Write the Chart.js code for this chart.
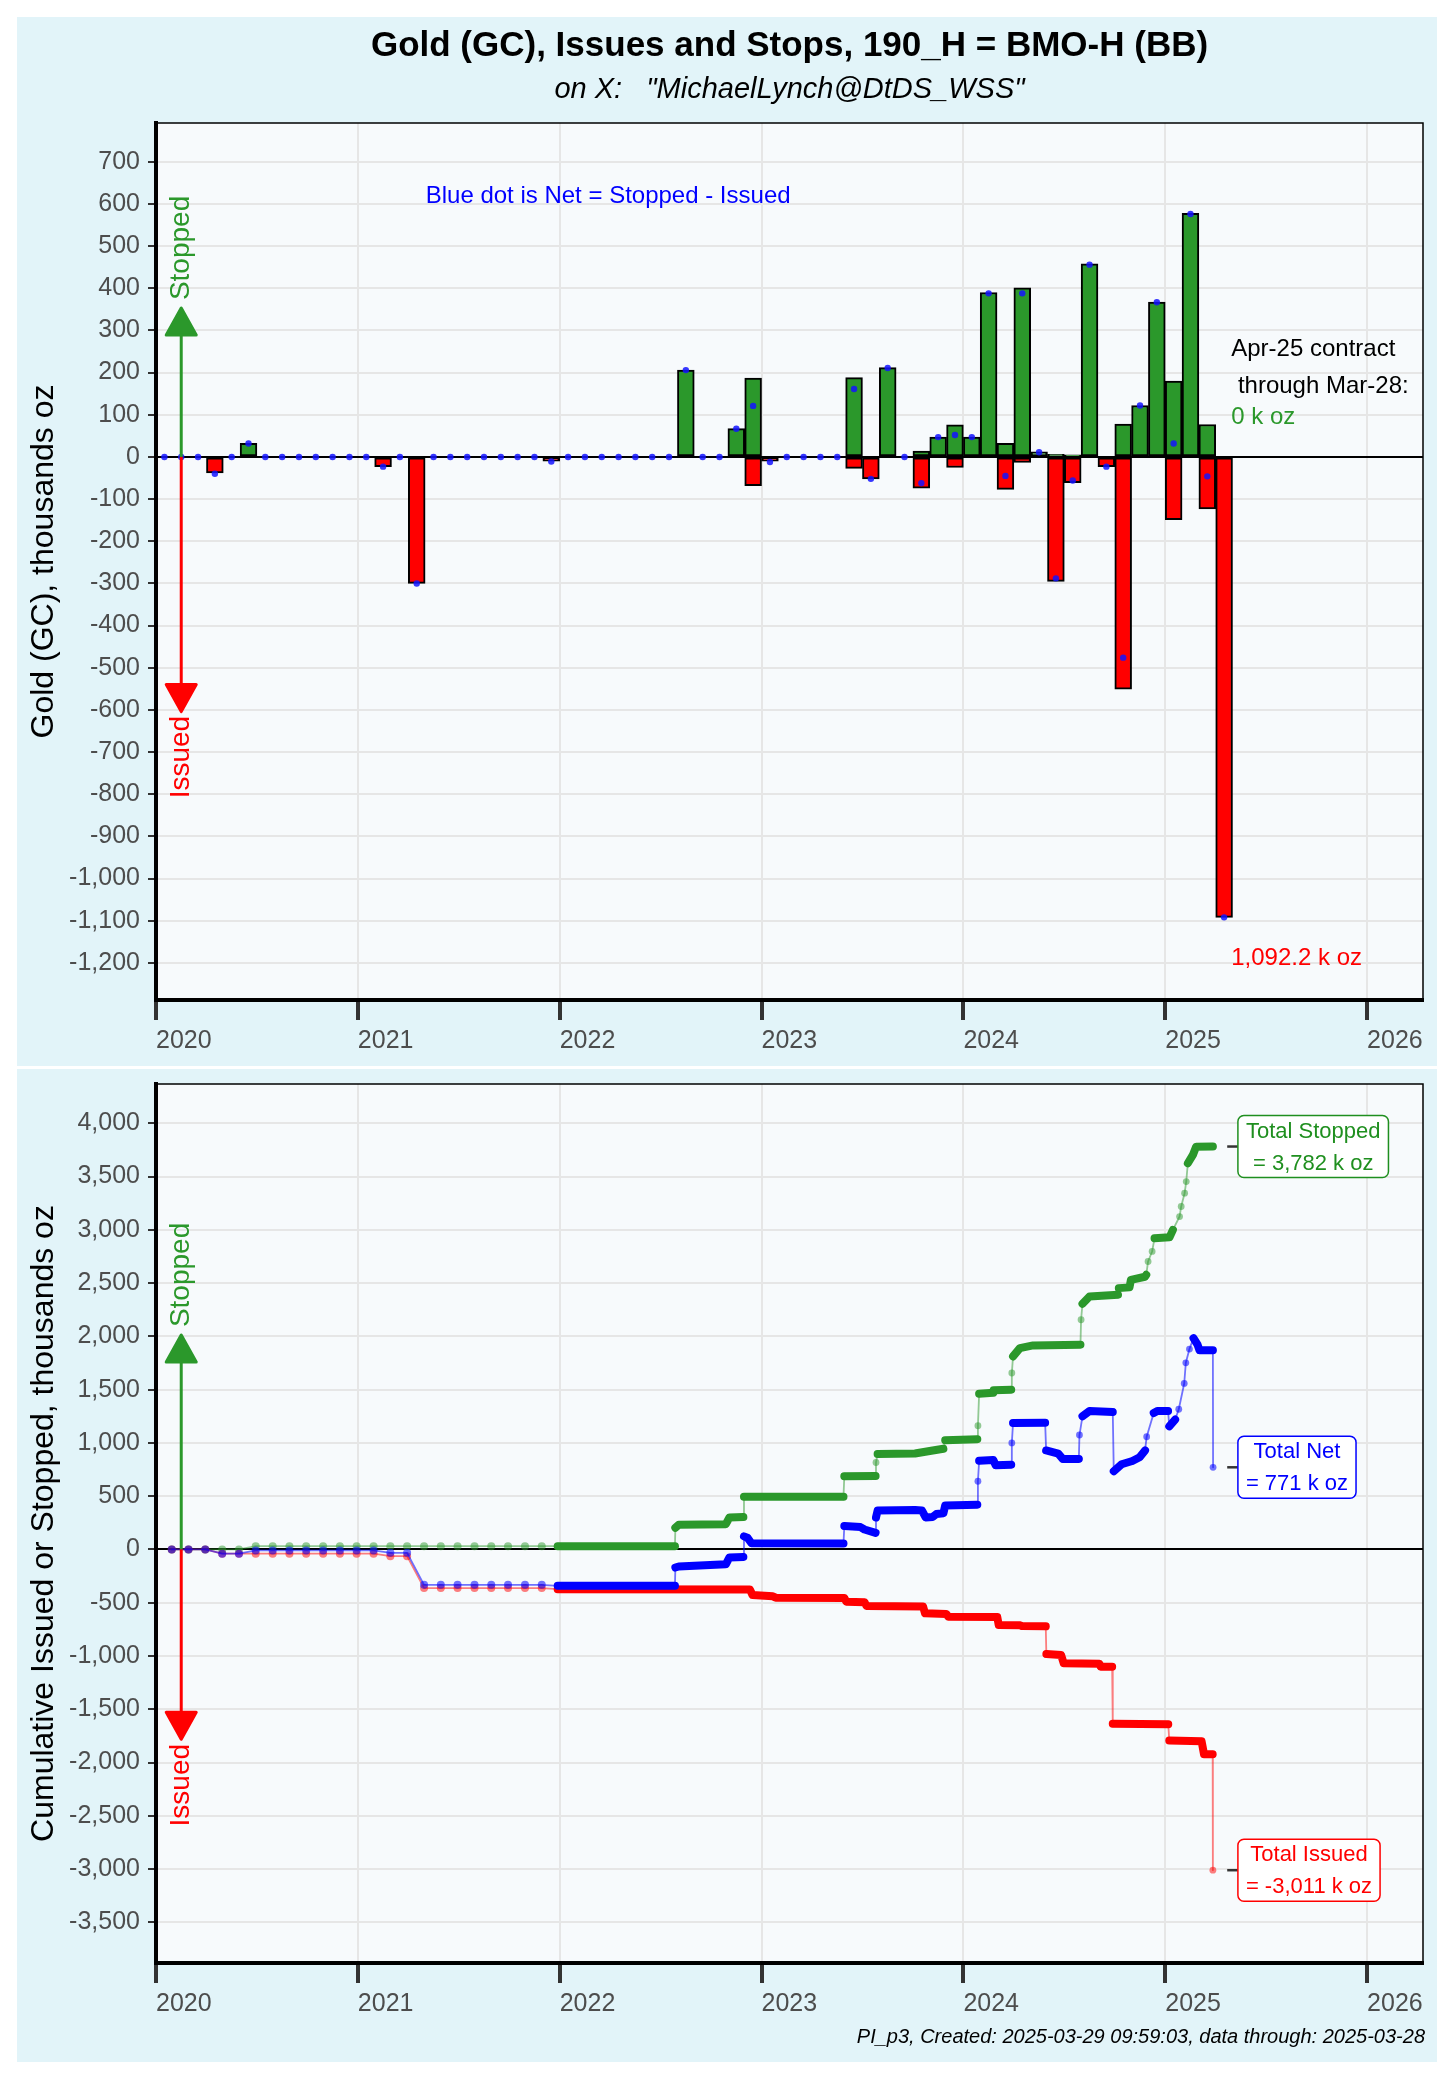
<!DOCTYPE html>
<html>
<head>
<meta charset="utf-8">
<script src="https://cdn.jsdelivr.net/npm/chart.js@4.4.1/dist/chart.umd.min.js"></script>
<style>
    html, body { margin: 0; padding: 0; background: #ffffff; }
    body { width: 1456px; height: 2080px; position: relative; overflow: hidden; }
    .panel { position: absolute; left: 17px; width: 1420px; background: #e2f4f9; }
    #panelTop { top: 17px; height: 1049px; }
    #panelBottom { top: 1069px; height: 993px; }
    canvas { display: block; }
</style>
</head>
<body>
<div class="panel" id="panelTop"><canvas id="chartTop" width="1420" height="1049"></canvas></div>
<div class="panel" id="panelBottom"><canvas id="chartBottom" width="1420" height="993"></canvas></div>
<script>
(function() {
    'use strict';

    // Monthly contract totals, thousand oz, Jan 2020 .. Apr 2025 (one row per year)
    var firstYear = 2020;
    var stoppedMonthly = [
        0, 0, 0, 0, 0, 32, 0, 0, 0, 0, 0, 0,
        0, 0, 0, 0, 0, 0, 0, 0, 0, 0, 0, 0,
        0, 0, 0, 0, 0, 0, 0, 206, 0, 0, 67, 187,
        0, 0, 0, 0, 0, 188, 0, 212, 0, 14, 47, 76,
        47, 390, 32, 401, 12, 6, 5, 458, 0, 78, 122, 367,
        180, 578, 77, 0
    ];
    var issuedMonthly = [
        0, 0, 0, -38, 0, 0, 0, 0, 0, 0, 0, 0,
        0, -23, 0, -300, 0, 0, 0, 0, 0, 0, 0, -10,
        0, 0, 0, 0, 0, 0, 0, 0, 0, 0, 0, -68,
        -10, 0, 0, 0, 0, -27, -52, 0, 0, -74, 0, -25,
        0, 0, -77, -13, 0, -295, -61, 0, -23, -551, 0, 0,
        -149, 0, -123, -1092.2
    ];
    var netMonthly = [
        0, 0, 0, -40, 0, 32, 0, 0, 0, 0, 0, 0,
        0, -23, 0, -300, 0, 0, 0, 0, 0, 0, 0, -11,
        0, 0, 0, 0, 0, 0, 0, 206, 0, 0, 67, 121,
        -12, 0, 0, 0, 0, 161, -52, 211, 0, -62, 47, 52,
        47, 388, -45, 388, 11, -288, -56, 456, -23, -476, 122, 367,
        32, 576, -46, -1092
    ];

    var yearTicks = [2020, 2021, 2022, 2023, 2024, 2025, 2026];
    var topYTicks = [700, 600, 500, 400, 300, 200, 100, 0, -100, -200, -300, -400, -500,
        -600, -700, -800, -900, -1000, -1100, -1200];
    var bottomYTicks = [4000, 3500, 3000, 2500, 2000, 1500, 1000, 500, 0, -500, -1000,
        -1500, -2000, -2500, -3000, -3500];

    // Cumulative totals, [year, thousand oz]
    var cumStopped = [
        [2020.078, 0], [2020.161, 0], [2020.244, 0], [2020.328, 0], [2020.411, 0], [2020.494, 31],
        [2020.578, 31], [2020.661, 31], [2020.744, 31], [2020.828, 31], [2020.911, 31], [2020.994, 31],
        [2021.078, 31], [2021.161, 31], [2021.244, 31], [2021.328, 31], [2021.411, 31], [2021.494, 31],
        [2021.578, 31], [2021.661, 31], [2021.744, 31], [2021.828, 31], [2021.911, 31],
        [2021.99, 31], [2022.571, 31], [2022.573, 203], [2022.59, 232], [2022.823, 237], [2022.841, 300],
        [2022.91, 304], [2022.913, 494], [2023.406, 494], [2023.41, 687], [2023.565, 690], [2023.567, 816],
        [2023.575, 897], [2023.76, 900], [2023.848, 929], [2023.901, 945], [2023.91, 1026], [2024.069, 1035],
        [2024.072, 1161], [2024.078, 1461], [2024.148, 1470], [2024.15, 1494], [2024.237, 1500],
        [2024.24, 1656], [2024.246, 1812], [2024.28, 1890], [2024.345, 1915], [2024.58, 1922],
        [2024.583, 2156], [2024.59, 2306], [2024.625, 2375], [2024.766, 2390], [2024.77, 2453],
        [2024.823, 2460], [2024.83, 2531], [2024.9, 2560], [2024.906, 2578], [2024.915, 2703],
        [2024.935, 2797], [2024.947, 2922], [2025.021, 2930], [2025.038, 3000], [2025.071, 3125],
        [2025.079, 3219], [2025.096, 3344], [2025.104, 3453], [2025.112, 3625], [2025.137, 3703],
        [2025.153, 3781], [2025.236, 3782]
    ];
    var cumIssued = [
        [2020.078, 0], [2020.161, 0], [2020.244, 0], [2020.328, -40], [2020.411, -40], [2020.494, -40],
        [2020.578, -40], [2020.661, -40], [2020.744, -40], [2020.828, -40], [2020.911, -40], [2020.994, -40],
        [2021.078, -40], [2021.161, -63], [2021.244, -63], [2021.328, -363], [2021.411, -363], [2021.494, -363],
        [2021.578, -363], [2021.661, -363], [2021.744, -363], [2021.828, -363], [2021.911, -363],
        [2021.99, -373], [2022.942, -375], [2022.955, -428], [2023.056, -440], [2023.07, -453],
        [2023.41, -455], [2023.42, -491], [2023.51, -495], [2023.52, -531], [2023.8, -535], [2023.81, -600],
        [2023.915, -605], [2023.925, -631], [2024.168, -635], [2024.175, -709], [2024.282, -712],
        [2024.29, -719], [2024.408, -722], [2024.411, -981], [2024.484, -990], [2024.497, -1069],
        [2024.674, -1072], [2024.68, -1100], [2024.737, -1100], [2024.74, -1637], [2025.015, -1640],
        [2025.02, -1794], [2025.18, -1800], [2025.185, -1850], [2025.192, -1922], [2025.235, -1922],
        [2025.236, -3011]
    ];
    var cumNet = [
        [2020.078, 0], [2020.161, 0], [2020.244, 0], [2020.328, -40], [2020.411, -40], [2020.494, -9],
        [2020.578, -9], [2020.661, -9], [2020.744, -9], [2020.828, -9], [2020.911, -9], [2020.994, -9],
        [2021.078, -9], [2021.161, -32], [2021.244, -32], [2021.328, -332], [2021.411, -332], [2021.494, -332],
        [2021.578, -332], [2021.661, -332], [2021.744, -332], [2021.828, -332], [2021.911, -332],
        [2021.99, -342], [2022.571, -342], [2022.573, -170], [2022.59, -160], [2022.823, -140],
        [2022.841, -75], [2022.91, -70], [2022.913, 123], [2022.93, 110], [2022.95, 58], [2023.406, 55],
        [2023.41, 219], [2023.49, 210], [2023.51, 187], [2023.565, 155], [2023.567, 300], [2023.575, 365],
        [2023.76, 370], [2023.795, 365], [2023.813, 300], [2023.848, 305], [2023.866, 332], [2023.901, 340],
        [2023.91, 413], [2024.069, 420], [2024.072, 640], [2024.078, 832], [2024.148, 840], [2024.16, 790],
        [2024.237, 795], [2024.24, 1000], [2024.246, 1187], [2024.405, 1190], [2024.41, 929],
        [2024.47, 900], [2024.493, 848], [2024.572, 850], [2024.575, 1074], [2024.59, 1250],
        [2024.625, 1300], [2024.74, 1290], [2024.745, 735], [2024.784, 800], [2024.837, 830],
        [2024.873, 865], [2024.9, 929], [2024.908, 1058], [2024.943, 1281], [2024.961, 1300],
        [2025.014, 1300], [2025.02, 1156], [2025.049, 1219], [2025.067, 1316], [2025.094, 1558],
        [2025.102, 1752], [2025.12, 1881], [2025.14, 1984], [2025.16, 1922], [2025.17, 1869],
        [2025.236, 1869], [2025.237, 771]
    ];

    var FONT = '"Liberation Sans", Arial, Helvetica, sans-serif';
    var GREEN = '#2b982b';
    var RED = '#ff0000';
    var BLUE = '#0000ff';

    // month centres on a year axis
    function monthPoints(values) {
        return values.map(function(v, i) {
            return { x: firstYear + (i + 0.5) / 12, y: v === 0 ? null : v };
        });
    }

    function xAxis() {
        return {
            type: 'linear',
            min: 2020,
            max: 2026.277,
            offset: false,
            afterBuildTicks: function(s) {
                s.ticks = yearTicks.map(function(v) { return { value: v }; });
            },
            afterFit: function(s) {
                s.height = 66;
                s.paddingLeft = 0;
                s.paddingRight = 0;
            },
            grid: {
                offset: false,
                color: '#e6e6e6',
                lineWidth: 2,
                tickLength: 20,
                tickWidth: 4,
                tickColor: '#333333'
            },
            border: { display: true, color: '#000000', width: 4 },
            ticks: {
                align: 'start',
                padding: 6,
                maxRotation: 0,
                autoSkip: false,
                color: '#4d4d4d',
                font: { family: FONT, size: 25 },
                callback: function(v) { return String(v); }
            }
        };
    }

    function yAxis(min, max, tickList, title) {
        return {
            type: 'linear',
            min: min,
            max: max,
            afterBuildTicks: function(s) {
                s.ticks = tickList.map(function(v) { return { value: v }; });
            },
            afterFit: function(s) {
                s.width = 139;
                s.paddingTop = 0;
                s.paddingBottom = 0;
            },
            grid: {
                color: function(ctx) {
                    return ctx.tick && ctx.tick.value === 0 ? '#000000' : '#e6e6e6';
                },
                lineWidth: 2,
                tickLength: 8,
                tickWidth: 2,
                tickColor: '#333333'
            },
            border: { display: true, color: '#000000', width: 4 },
            ticks: {
                padding: 8,
                color: '#4d4d4d',
                font: { family: FONT, size: 25 },
                callback: function(v) { return Number(v).toLocaleString('en-US'); }
            },
            title: {
                display: true,
                text: title,
                color: '#000000',
                font: { family: FONT, size: 32 },
                padding: { top: 8, bottom: 0 }
            }
        };
    }

    var plotFrame = {
        id: 'plotFrame',
        beforeDraw: function(chart) {
            var a = chart.chartArea, ctx = chart.ctx;
            ctx.save();
            ctx.fillStyle = '#f7fafc';
            ctx.fillRect(a.left, a.top, a.right - a.left, a.bottom - a.top);
            ctx.restore();
        },
        afterDraw: function(chart) {
            var a = chart.chartArea, ctx = chart.ctx;
            ctx.save();
            ctx.strokeStyle = '#000000';
            ctx.lineWidth = 1.5;
            ctx.beginPath();
            ctx.moveTo(a.left, a.top);
            ctx.lineTo(a.right, a.top);
            ctx.lineTo(a.right, a.bottom);
            ctx.stroke();
            ctx.restore();
        }
    };

    function text(ctx, str, x, y, opts) {
        ctx.save();
        ctx.font = (opts.style || '') + ' ' + (opts.size || 24) + 'px ' + FONT;
        ctx.fillStyle = opts.color || '#000000';
        ctx.textAlign = opts.align || 'left';
        ctx.textBaseline = 'middle';
        ctx.fillText(str, x, y);
        ctx.restore();
    }

    function vText(ctx, str, x, y, align, color) {
        ctx.save();
        ctx.translate(x, y);
        ctx.rotate(-Math.PI / 2);
        ctx.font = '28px ' + FONT;
        ctx.fillStyle = color;
        ctx.textAlign = align;
        ctx.textBaseline = 'middle';
        ctx.fillText(str, 0, 0);
        ctx.restore();
    }

    // vertical arrow from the zero line to a tip (pixel coords)
    function arrow(ctx, x, yFrom, yTip, color) {
        var dir = yTip < yFrom ? -1 : 1;
        var headH = 27, headW = 30;
        var base = yTip - dir * headH;
        ctx.save();
        ctx.strokeStyle = color;
        ctx.fillStyle = color;
        ctx.lineWidth = 3;
        ctx.lineJoin = 'round';
        ctx.beginPath();
        ctx.moveTo(x, yFrom);
        ctx.lineTo(x, base);
        ctx.stroke();
        ctx.beginPath();
        ctx.moveTo(x, yTip);
        ctx.lineTo(x - headW / 2, base);
        ctx.lineTo(x + headW / 2, base);
        ctx.closePath();
        ctx.fill();
        ctx.stroke();
        ctx.restore();
    }

    function arrowsPlugin(upTip, upText, downTip, downText) {
        return {
            id: 'stopIssueArrows',
            afterDatasetsDraw: function(chart) {
                var ctx = chart.ctx, xs = chart.scales.x, ys = chart.scales.y;
                var x = xs.getPixelForValue(2020.125);
                var y0 = ys.getPixelForValue(0);
                arrow(ctx, x, y0, ys.getPixelForValue(upTip), GREEN);
                arrow(ctx, x, y0, ys.getPixelForValue(downTip), RED);
                vText(ctx, 'Stopped', x, ys.getPixelForValue(upText), 'left', GREEN);
                vText(ctx, 'Issued', x, ys.getPixelForValue(downText), 'right', RED);
            }
        };
    }

    var topNotes = {
        id: 'topNotes',
        afterDraw: function(chart) {
            var ctx = chart.ctx, xs = chart.scales.x, ys = chart.scales.y, a = chart.chartArea;
            var cx = (a.left + a.right) / 2;
            text(ctx, 'Gold (GC), Issues and Stops, 190_H = BMO-H (BB)', cx, 29, { style: 'bold', size: 35, align: 'center' });
            text(ctx, 'on X:   "MichaelLynch@DtDS_WSS"', cx, 73, { style: 'italic', size: 29, align: 'center' });
            text(ctx, 'Blue dot is Net = Stopped - Issued', xs.getPixelForValue(2022.24), ys.getPixelForValue(619), { size: 24, color: BLUE, align: 'center' });
            var lx = xs.getPixelForValue(2025.327);
            text(ctx, 'Apr-25 contract', lx, ys.getPixelForValue(254), { size: 24 });
            text(ctx, ' through Mar-28:', lx, ys.getPixelForValue(168), { size: 24 });
            text(ctx, '0 k oz', lx, ys.getPixelForValue(93), { size: 24, color: GREEN });
            text(ctx, '1,092.2 k oz', lx, ys.getPixelForValue(-1189), { size: 24, color: RED });
        }
    };

    function totalBox(ctx, xs, ys, value, lines, color) {
        var y = ys.getPixelForValue(value);
        var left = xs.getPixelForValue(2025.36);
        var lead = xs.getPixelForValue(2025.307);
        ctx.save();
        ctx.font = '22px ' + FONT;
        var w = Math.max(ctx.measureText(lines[0]).width, ctx.measureText(lines[1]).width) + 16;
        var h = 62, r = 6, top = y - h / 2;
        ctx.strokeStyle = '#333333';
        ctx.lineWidth = 2.5;
        ctx.beginPath();
        ctx.moveTo(lead, y);
        ctx.lineTo(left, y);
        ctx.stroke();
        ctx.beginPath();
        ctx.roundRect(left, top, w, h, r);
        ctx.fillStyle = '#ffffff';
        ctx.fill();
        ctx.strokeStyle = color;
        ctx.lineWidth = 1.5;
        ctx.stroke();
        ctx.restore();
        text(ctx, lines[0], left + w / 2, y - 15, { size: 22, color: color, align: 'center' });
        text(ctx, lines[1], left + w / 2, y + 17, { size: 22, color: color, align: 'center' });
    }

    var bottomNotes = {
        id: 'bottomNotes',
        afterDraw: function(chart) {
            var ctx = chart.ctx, xs = chart.scales.x, ys = chart.scales.y, a = chart.chartArea;
            totalBox(ctx, xs, ys, 3782, ['Total Stopped', '= 3,782 k oz'], '#1f8f1f');
            totalBox(ctx, xs, ys, 771, ['Total Net', '= 771 k oz'], BLUE);
            totalBox(ctx, xs, ys, -3011, ['Total Issued', '= -3,011 k oz'], RED);
            text(ctx, 'PI_p3, Created: 2025-03-29 09:59:03, data through: 2025-03-28', a.right + 2, 968,
                { style: 'italic', size: 20, align: 'right' });
        }
    };

    // thick strokes for flat runs of daily points, thin for jumps and the sparse early months
    function isThick(ctx) {
        var p0 = ctx.p0.parsed, p1 = ctx.p1.parsed;
        if (p0.x < 2021.95) return false;
        if (p1.x - p0.x < 0.004) return false;
        return Math.abs(p1.y - p0.y) <= 80;
    }

    function cumDataset(label, data, solid, faint) {
        return {
            type: 'line',
            label: label,
            data: data,
            borderColor: solid,
            borderWidth: 2,
            borderCapStyle: 'round',
            borderJoinStyle: 'round',
            pointRadius: function(c) {
                var d = c.raw;
                return d && d[0] < 2021.95 ? 4 : 3.4;
            },
            pointBackgroundColor: faint,
            pointBorderWidth: 0,
            segment: {
                borderWidth: function(c) { return isThick(c) ? 8 : 1.8; },
                borderColor: function(c) { return isThick(c) ? solid : faint; }
            }
        };
    }

    var common = {
        responsive: false,
        animation: false,
        devicePixelRatio: 1,
        events: [],
        plugins: {
            legend: { display: false },
            tooltip: { enabled: false }
        }
    };

    new Chart(document.getElementById('chartTop'), {
        type: 'bar',
        data: {
            datasets: [
                {
                    type: 'line',
                    label: 'Net',
                    data: netMonthly.map(function(v, i) { return { x: firstYear + (i + 0.5) / 12, y: v }; }),
                    showLine: false,
                    pointRadius: 3.2,
                    pointBackgroundColor: 'rgba(20, 20, 255, 0.85)',
                    pointBorderWidth: 0
                },
                {
                    label: 'Stopped',
                    data: monthPoints(stoppedMonthly),
                    backgroundColor: GREEN,
                    borderColor: '#000000',
                    borderWidth: 2,
                    borderSkipped: false,
                    grouped: false,
                    barPercentage: 1,
                    categoryPercentage: 1
                },
                {
                    label: 'Issued',
                    data: monthPoints(issuedMonthly),
                    backgroundColor: RED,
                    borderColor: '#000000',
                    borderWidth: 2,
                    borderSkipped: false,
                    grouped: false,
                    barPercentage: 1,
                    categoryPercentage: 1
                }
            ]
        },
        options: Object.assign({}, common, {
            layout: { padding: { top: 106, right: 14, bottom: 0, left: 0 } },
            scales: {
                x: xAxis(),
                y: yAxis(-1288, 792, topYTicks, 'Gold (GC), thousands oz')
            }
        }),
        plugins: [plotFrame, arrowsPlugin(353, 372, -604, -614), topNotes]
    });

    new Chart(document.getElementById('chartBottom'), {
        type: 'line',
        data: {
            datasets: [
                cumDataset('Net', cumNet, BLUE, 'rgba(0, 0, 255, 0.55)'),
                cumDataset('Issued', cumIssued, RED, 'rgba(255, 0, 0, 0.5)'),
                cumDataset('Stopped', cumStopped, GREEN, 'rgba(43, 152, 43, 0.5)')
            ]
        },
        options: Object.assign({}, common, {
            layout: { padding: { top: 15, right: 14, bottom: 33, left: 0 } },
            scales: {
                x: xAxis(),
                y: yAxis(-3882, 4369, bottomYTicks, 'Cumulative Issued or Stopped, thousands oz')
            }
        }),
        plugins: [plotFrame, arrowsPlugin(2012, 2087, -1782, -1826), bottomNotes]
    });
})();
</script>
</body>
</html>
